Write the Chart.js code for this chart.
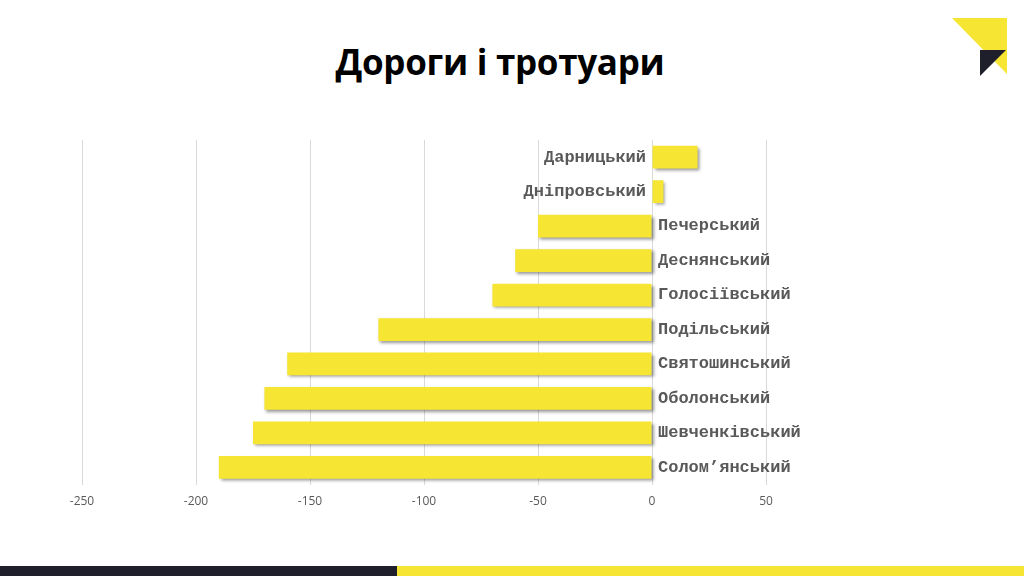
<!DOCTYPE html>
<html>
<head>
<meta charset="utf-8">
<script src="https://cdn.jsdelivr.net/npm/chart.js@4"></script>
<style>
  body { margin: 0; width: 1024px; height: 576px; background: #fff; overflow: hidden; position: relative; }
  h1 { position: absolute; left: 0; width: 1000px; top: 38px; margin: 0; text-align: center;
       font: bold 35px "Open Sans", "Noto Sans", sans-serif; color: #000; letter-spacing: -0.3px; }
  #wrap { position: absolute; left: 0; top: 0; width: 1024px; height: 576px; }
  .bar-dark { position: absolute; left: 0; top: 566px; width: 397px; height: 10px; background: #1e1f2b; }
  .bar-yellow { position: absolute; left: 397px; top: 566px; width: 627px; height: 10px; background: #f6e532; }
  svg { position: absolute; left: 0; top: 0; }
</style>
</head>
<body>
<h1>Дороги і тротуари</h1>
<svg width="1024" height="100">
  <polygon points="952,18 1007,18 1007,74" fill="#f6e532"/>
  <polygon points="980,50 1006,50 980,76" fill="#1e1f2b"/>
</svg>
<div id="wrap"><canvas id="chart" width="1024" height="576"></canvas></div>
<div class="bar-dark"></div>
<div class="bar-yellow"></div>
<script>
  // Райони та значення
  const districts = ['Дарницький', 'Дніпровський', 'Печерський', 'Деснянський', 'Голосіївський',
    'Подільський', 'Святошинський', 'Оболонський', 'Шевченківський', 'Солом’янський'];
  const values = [20, 5, -50, -60, -70, -120, -160, -170, -175, -190];
  const xTicks = [-250, -200, -150, -100, -50, 0, 50];

  // тінь під смугами
  const shadowPlugin = {
    id: 'shadow',
    beforeDatasetDraw(chart) {
      const c = chart.ctx;
      c.save();
      c.shadowColor = 'rgba(0,0,0,0.4)';
      c.shadowBlur = 3;
      c.shadowOffsetX = 2;
      c.shadowOffsetY = 2;
    },
    afterDatasetDraw(chart) { chart.ctx.restore(); }
  };

  // підписи районів біля нуля
  const labelPlugin = {
    id: 'districtLabels',
    afterDatasetsDraw(chart) {
      const c = chart.ctx;
      const x0 = chart.scales.x.getPixelForValue(0);
      const meta = chart.getDatasetMeta(0);
      c.save();
      c.font = 'bold 17px "Liberation Mono", monospace';
      c.fillStyle = '#595959';
      c.textBaseline = 'middle';
      meta.data.forEach((bar, i) => {
        if (values[i] >= 0) {
          c.textAlign = 'right';
          c.fillText(districts[i], x0 - 6, bar.y);
        } else {
          c.textAlign = 'left';
          c.fillText(districts[i], x0 + 6, bar.y);
        }
      });
      c.restore();
    }
  };

  new Chart(document.getElementById('chart').getContext('2d'), {
    type: 'bar',
    data: {
      labels: districts,
      datasets: [{
        data: values,
        backgroundColor: '#f6e532',
        borderWidth: 0,
        barPercentage: 0.66,
        categoryPercentage: 1
      }]
    },
    options: {
      indexAxis: 'y',
      responsive: false,
      animation: false,
      layout: { padding: { left: 82, right: 258, top: 140, bottom: 57 } },
      plugins: { legend: { display: false }, tooltip: { enabled: false } },
      scales: {
        x: {
          min: -250, max: 50,
          afterBuildTicks(axis) { axis.ticks = xTicks.map(v => ({ value: v })); },
          grid: { color: '#d9d9d9', drawTicks: false },
          border: { display: false },
          ticks: { color: '#595959', padding: 10, font: { family: 'Open Sans', size: 12 } }
        },
        y: { display: false }
      }
    },
    plugins: [shadowPlugin, labelPlugin]
  });
</script>
</body>
</html>
